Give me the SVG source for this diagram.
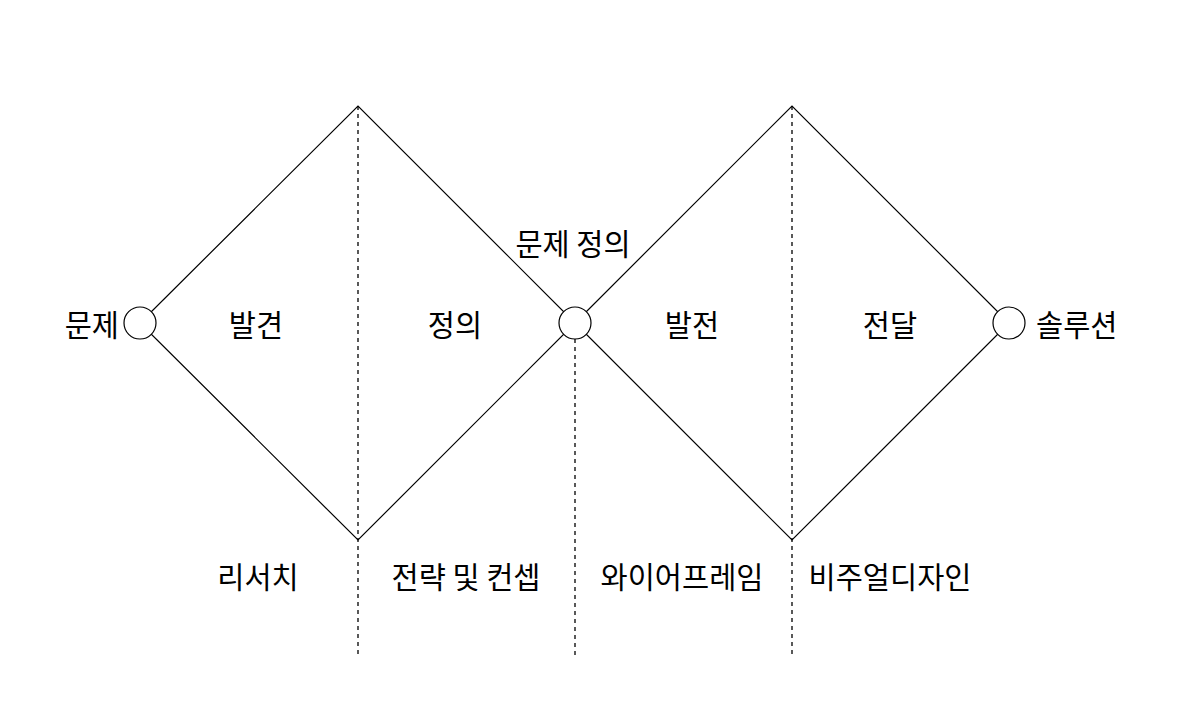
<svg xmlns="http://www.w3.org/2000/svg" width="1181" height="711" viewBox="0 0 1181 711">
<style>
.e{fill:none;stroke:#000;stroke-width:1.2}
.d{fill:none;stroke:#000;stroke-width:1.3;stroke-dasharray:4 4}
.c{fill:#fff;stroke:#000;stroke-width:1.2}
text{font-family:"Noto Sans CJK KR","Noto Sans",sans-serif;font-size:29.5px;fill:#000;dominant-baseline:central}
.m{text-anchor:middle}
</style>
<rect width="1181" height="711" fill="#fff"/>
<g id="connectors">
<polygon class="e" points="140,323 358,106 575,323 358,540"/>
<polygon class="e" points="575,323 792,106 1009,323 792,540"/>
<line class="d" x1="358" y1="106" x2="358" y2="656"/>
<line class="d" x1="575" y1="339" x2="575" y2="656"/>
<line class="d" x1="792" y1="106" x2="792" y2="656"/>
</g>
<g id="start"><circle class="c" cx="140" cy="323" r="16"/><text x="119" y="323" text-anchor="end">문제</text></g>
<g id="mid"><circle class="c" cx="575" cy="323" r="16"/><text class="m" x="573" y="242">문제 정의</text></g>
<g id="end"><circle class="c" cx="1009" cy="323" r="16"/><text x="1036" y="323">솔루션</text></g>
<g id="discover"><text class="m" x="256" y="323">발견</text><text class="m" x="258" y="575">리서치</text></g>
<g id="define"><text class="m" x="455" y="323">정의</text><text class="m" x="466" y="575">전략 및 컨셉</text></g>
<g id="develop"><text class="m" x="692" y="323">발전</text><text class="m" x="682" y="575">와이어프레임</text></g>
<g id="deliver"><text class="m" x="890" y="323">전달</text><text class="m" x="890" y="575">비주얼디자인</text></g>
</svg>
